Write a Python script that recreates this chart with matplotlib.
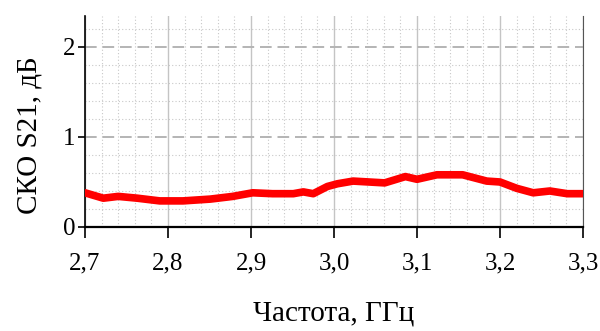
import matplotlib.pyplot as plt
from matplotlib.ticker import MultipleLocator, FuncFormatter

# frequency, GHz and RMS of S21, dB
freq = [2.700, 2.722, 2.740, 2.763, 2.790, 2.818, 2.851, 2.878, 2.902, 2.926,
        2.951, 2.963, 2.975, 2.992, 3.004, 3.023, 3.061, 3.086, 3.100, 3.124,
        3.155, 3.184, 3.200, 3.220, 3.240, 3.260, 3.281, 3.300]
sko = [0.38, 0.32, 0.34, 0.32, 0.29, 0.29, 0.31, 0.34, 0.38, 0.37,
       0.37, 0.39, 0.37, 0.45, 0.48, 0.51, 0.49, 0.56, 0.53, 0.58,
       0.58, 0.51, 0.50, 0.43, 0.38, 0.40, 0.37, 0.37]

xticks = [2.7, 2.8, 2.9, 3.0, 3.1, 3.2, 3.3]
yticks = [0, 1, 2]

plt.rcParams['font.family'] = ['Liberation Serif', 'DejaVu Serif']

fig = plt.figure(figsize=(6, 3.31), dpi=100)
ax = fig.add_axes([0.1417, 0.3142, 0.83, 0.6375])

ax.plot(freq, sko, color='#ff0000', lw=5.5, solid_capstyle='round',
        solid_joinstyle='round', zorder=3)

ax.set_xlim(2.7, 3.3)
ax.set_ylim(0, 2.344)
ax.set_xticks(xticks)
ax.set_yticks(yticks)
ax.xaxis.set_major_formatter(FuncFormatter(lambda v, p: f"{v:.1f}".replace('.', ',')))
ax.xaxis.set_minor_locator(MultipleLocator(0.02))
ax.yaxis.set_minor_locator(MultipleLocator(0.2))

# --- GRID ---
ax.grid(which='minor', color='#c8c8c8', ls=(0, (1, 2)), lw=0.8)
ax.grid(which='major', axis='x', color='#c4c4c4', ls='-', lw=1.0)
ax.grid(which='major', axis='y', color='#b4b4b4', ls=(0, (6, 3)), lw=1.4)

# --- STYLE ---
ax.spines['top'].set_visible(False)
ax.spines['right'].set_color('#555555')
ax.spines['left'].set_linewidth(1.2)
ax.spines['bottom'].set_linewidth(1.6)
ax.tick_params(which='minor', length=0)
ax.tick_params(axis='x', which='major', length=8, width=1.2, labelsize=18, pad=10)
ax.tick_params(axis='y', which='major', length=5, width=1.2, labelsize=18, pad=2)
ax.set_xlabel("Частота, ГГц", fontsize=21, labelpad=19)
ax.set_ylabel("СКО S21, дБ", fontsize=21)
ax.yaxis.set_label_coords(-0.086, 0.436)

plt.savefig("out.png", dpi=100)
